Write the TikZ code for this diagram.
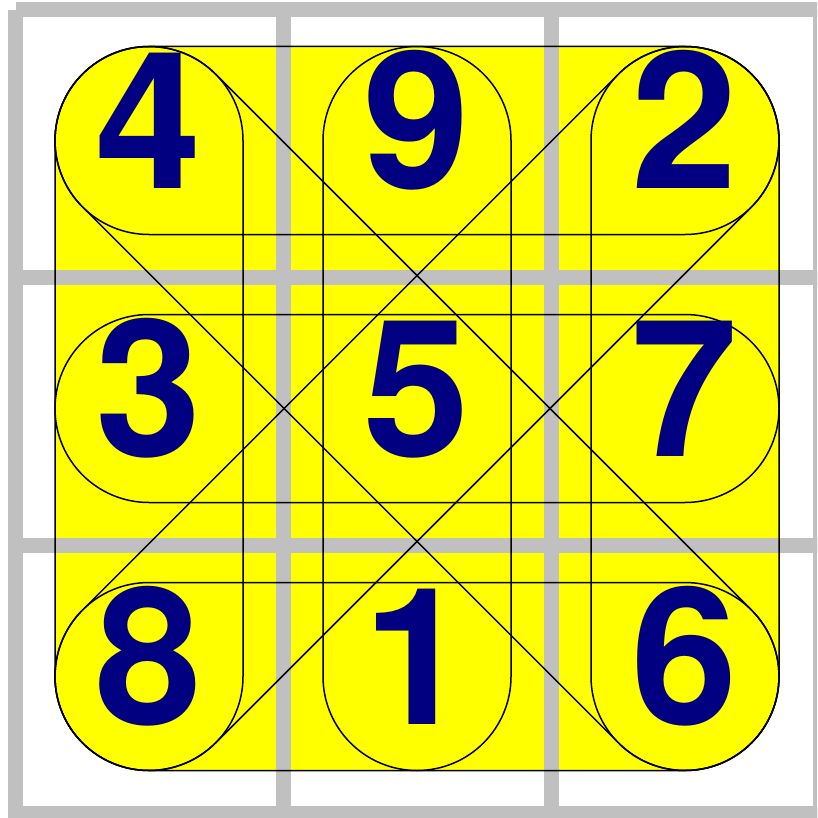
\documentclass[tikz,border=0pt]{standalone}
\usepackage{fontspec}
\setmainfont{TeX Gyre Heros}
\begin{document}
\begin{tikzpicture}[x=1pt,y=-1pt,
  gridline/.style={draw=gridgray,line width=15pt,line cap=butt},
  stadium/.style={draw=black,line width=1.5pt,rounded corners=94pt},
  digit/.style={inner sep=0pt,anchor=base,text=navyblue,font=\fontsize{191}{191}\bfseries\selectfont}]
\definecolor{gridgray}{RGB}{192,192,192}
\definecolor{navyblue}{RGB}{0,0,128}
\definecolor{yel}{RGB}{255,255,0}
\useasboundingbox (0,0) rectangle (817,818);
\clip (0,0) rectangle (817,818);
% yellow background
\fill[yel,rounded corners=94pt] (55,46.5) rectangle (779,770.5);
% gray grid
\draw[gridline] (15.5,10) -- (827,10);
\foreach \y in {277.5,545.5,813} \draw[gridline] (8,\y) -- (827,\y);
\foreach \x in {15.5,283.5,551.5,820} \draw[gridline] (\x,10) -- (\x,827);
% rows
\foreach \y in {140.5,408.5,676.5}
  \draw[stadium] (55,\y-94) rectangle (779,\y+94);
% columns
\foreach \x in {149,417,685}
  \draw[stadium] (\x-94,46.5) rectangle (\x+94,770.5);
% diagonals
\begin{scope}[shift={(417,408.5)},rotate=45]
  \draw[stadium] (-473,-94) rectangle (473,94);
\end{scope}
\begin{scope}[shift={(417,408.5)},rotate=-45]
  \draw[stadium] (-473,-94) rectangle (473,94);
\end{scope}
% digits
\node[digit] (n4) at (149,188.5) {4};
\node[digit] (n9) at (417,188.5) {9};
\node[digit] (n2) at (685,188.5) {2};
\node[digit] (n3) at (149,456.5) {3};
\node[digit] (n5) at (417,456.5) {5};
\node[digit] (n7) at (685,456.5) {7};
\node[digit] (n8) at (149,724.5) {8};
\node[digit] (n1) at (417,724.5) {1};
\node[digit] (n6) at (685,724.5) {6};
\end{tikzpicture}
\end{document}
